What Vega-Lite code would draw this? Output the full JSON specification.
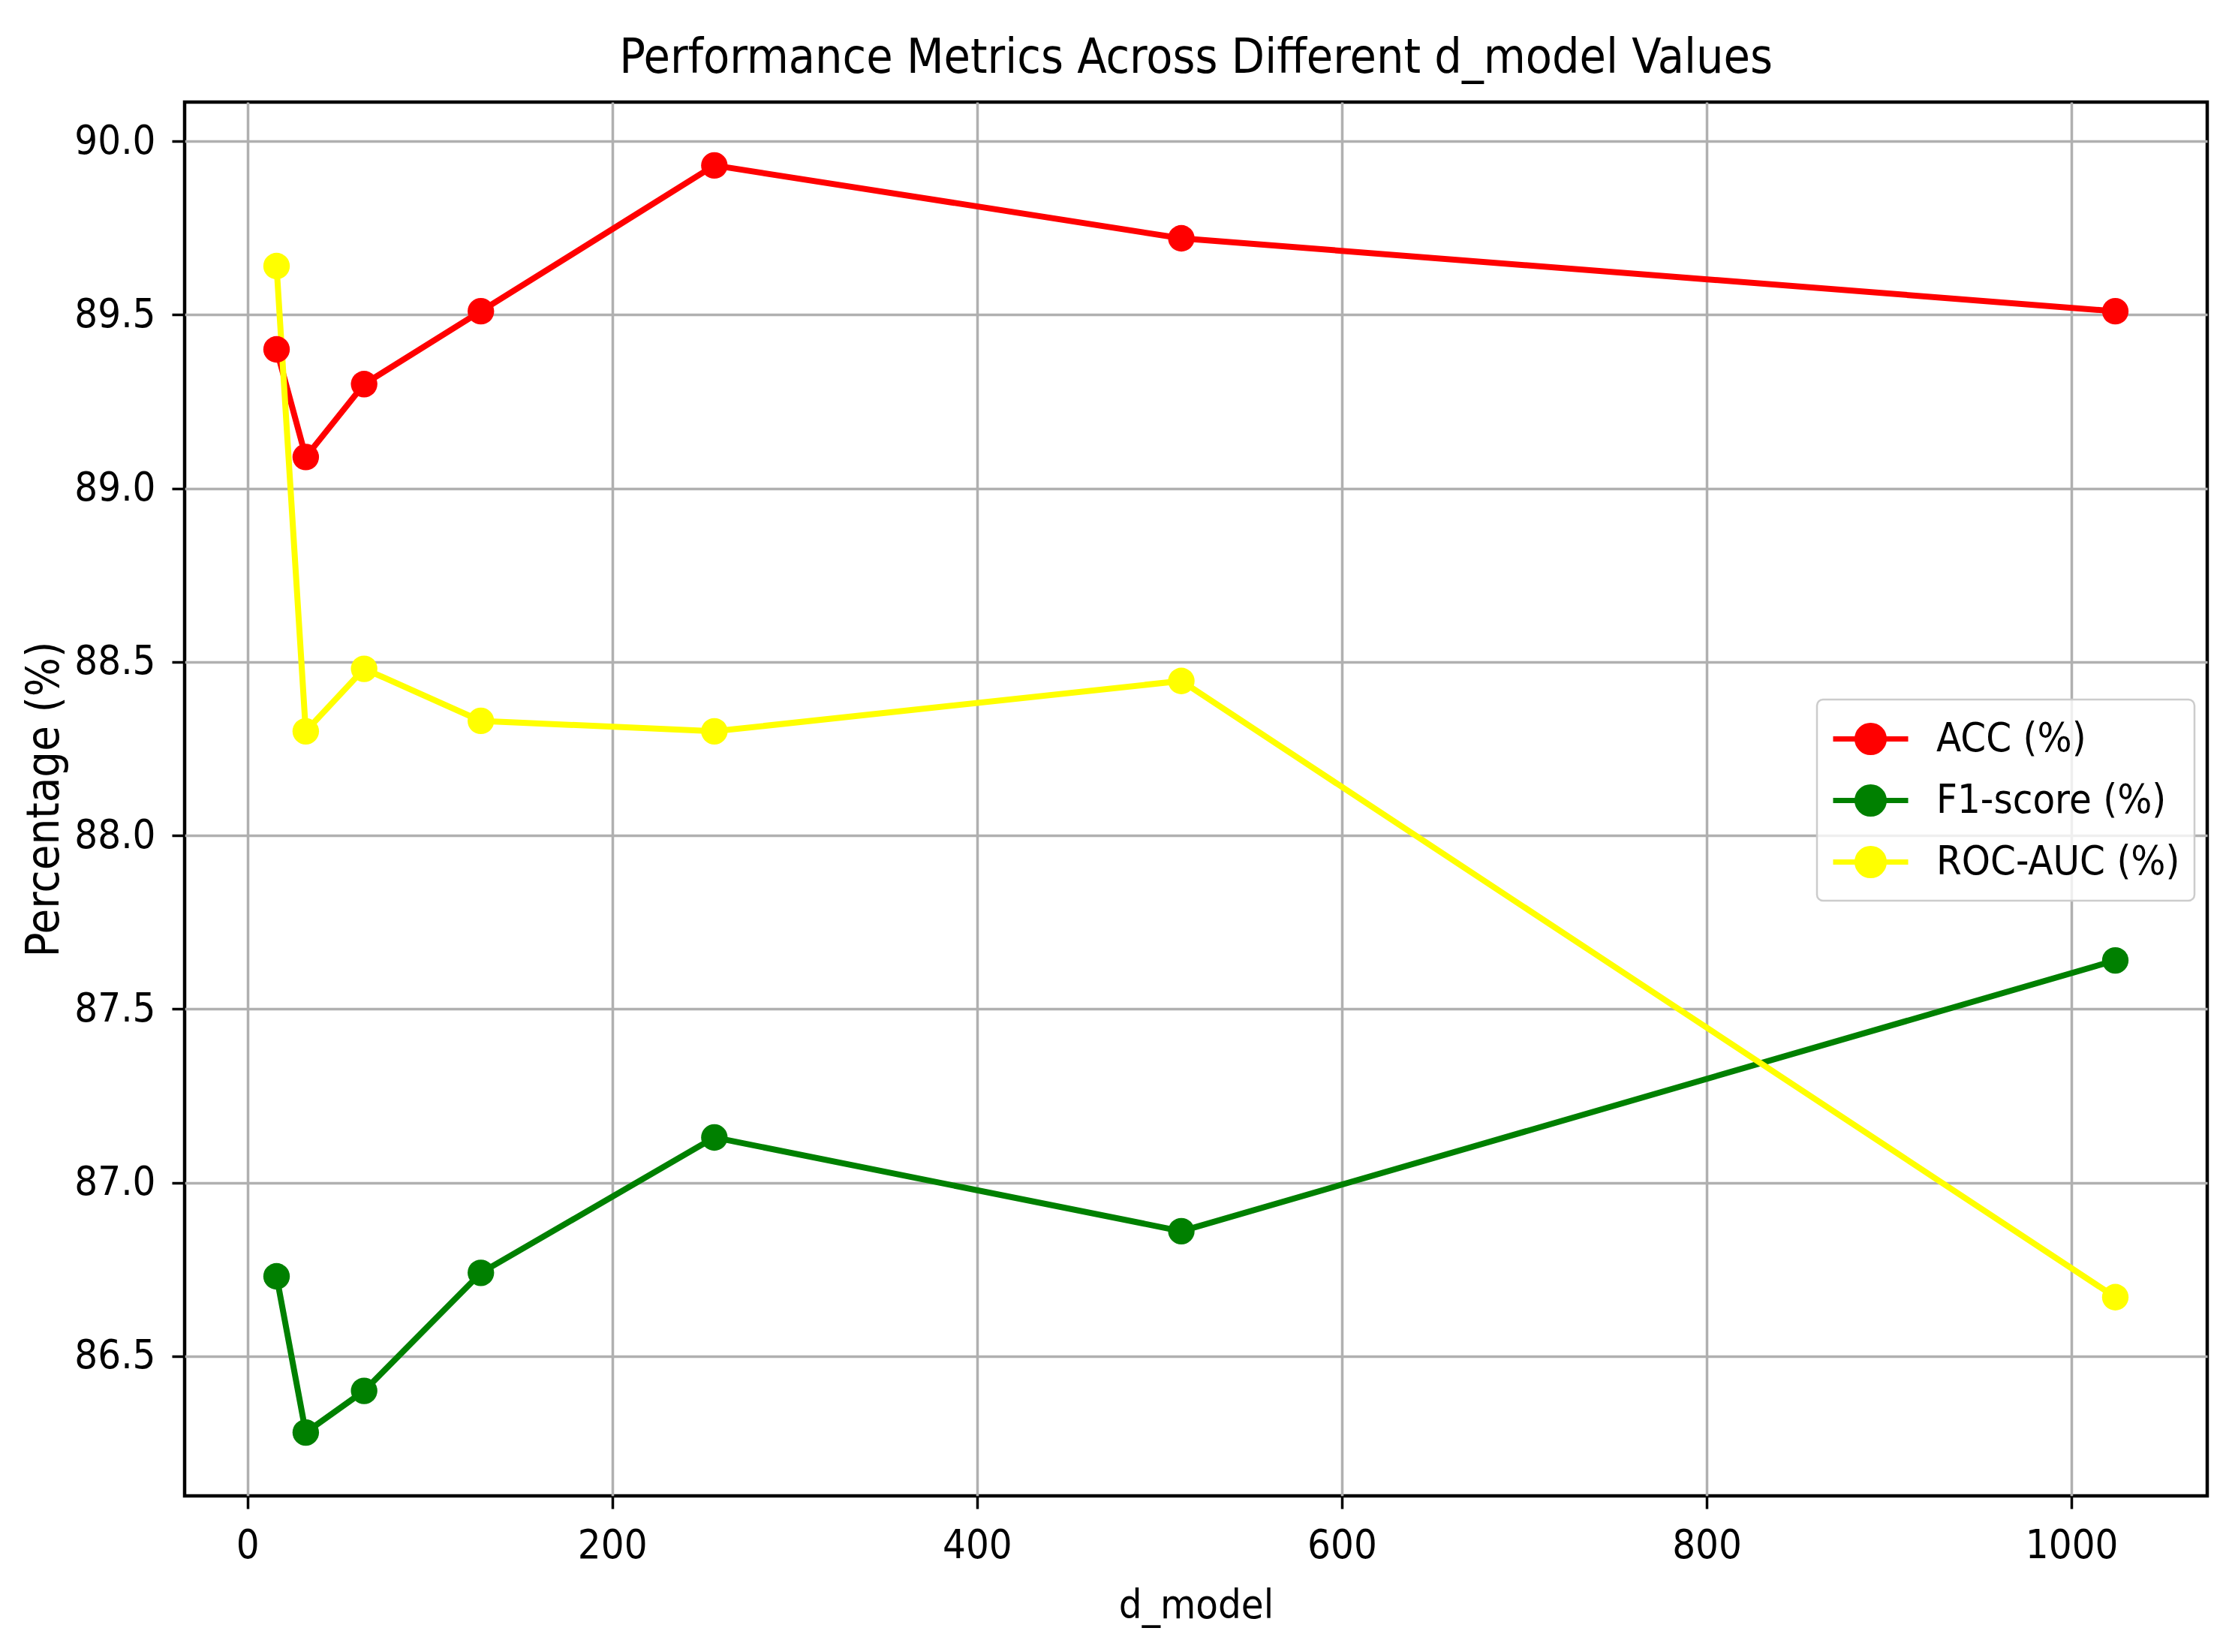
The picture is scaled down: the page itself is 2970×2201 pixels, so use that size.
{
  "$schema": "https://vega.github.io/schema/vega-lite/v6.json",
  "description": "Performance metrics across d_model values",
  "width": 2695,
  "height": 1857,
  "autosize": {"type": "none"},
  "padding": {"left": 246, "top": 136, "right": 29, "bottom": 208},
  "background": "white",
  "title": {
    "text": "Performance Metrics Across Different d_model Values",
    "fontSize": 64,
    "fontWeight": "normal",
    "color": "black",
    "baseline": "bottom",
    "offset": 18,
    "dy": 56
  },
  "config": {
    "font": "DejaVu Sans Condensed, DejaVu Sans",
    "view": {"stroke": "black", "strokeWidth": 4.5},
    "axis": {
      "domain": false,
      "grid": true,
      "gridColor": "#b0b0b0",
      "gridWidth": 3.5,
      "tickColor": "black",
      "tickWidth": 3.5,
      "tickSize": 17,
      "labelFontSize": 54,
      "labelColor": "black",
      "labelPadding": 22,
      "titleFontSize": 54,
      "titleFontWeight": "normal",
      "titleColor": "black"
    }
  },
  "data": {
    "values": [
      {"d_model": 16, "metric": "ACC (%)", "value": 89.40},
      {"d_model": 32, "metric": "ACC (%)", "value": 89.09},
      {"d_model": 64, "metric": "ACC (%)", "value": 89.30},
      {"d_model": 128, "metric": "ACC (%)", "value": 89.51},
      {"d_model": 256, "metric": "ACC (%)", "value": 89.93},
      {"d_model": 512, "metric": "ACC (%)", "value": 89.72},
      {"d_model": 1024, "metric": "ACC (%)", "value": 89.51},
      {"d_model": 16, "metric": "F1-score (%)", "value": 86.73},
      {"d_model": 32, "metric": "F1-score (%)", "value": 86.28},
      {"d_model": 64, "metric": "F1-score (%)", "value": 86.40},
      {"d_model": 128, "metric": "F1-score (%)", "value": 86.74},
      {"d_model": 256, "metric": "F1-score (%)", "value": 87.13},
      {"d_model": 512, "metric": "F1-score (%)", "value": 86.86},
      {"d_model": 1024, "metric": "F1-score (%)", "value": 87.64},
      {"d_model": 16, "metric": "ROC-AUC (%)", "value": 89.64},
      {"d_model": 32, "metric": "ROC-AUC (%)", "value": 88.30},
      {"d_model": 64, "metric": "ROC-AUC (%)", "value": 88.48},
      {"d_model": 128, "metric": "ROC-AUC (%)", "value": 88.33},
      {"d_model": 256, "metric": "ROC-AUC (%)", "value": 88.30},
      {"d_model": 512, "metric": "ROC-AUC (%)", "value": 88.445},
      {"d_model": 1024, "metric": "ROC-AUC (%)", "value": 86.67}
    ]
  },
  "mark": {
    "type": "line",
    "strokeWidth": 8,
    "point": {"filled": true, "size": 1250, "opacity": 1}
  },
  "encoding": {
    "x": {
      "field": "d_model",
      "type": "quantitative",
      "scale": {"domain": [-34.4, 1074.4], "nice": false, "zero": false},
      "axis": {
        "title": "d_model",
        "values": [0, 200, 400, 600, 800, 1000],
        "format": "d",
        "titlePadding": 26
      }
    },
    "y": {
      "field": "value",
      "type": "quantitative",
      "scale": {"domain": [86.0975, 90.1125], "nice": false, "zero": false},
      "axis": {
        "title": "Percentage (%)",
        "titleFontSize": 61,
        "values": [86.5, 87, 87.5, 88, 88.5, 89, 89.5, 90],
        "format": ".1f",
        "titlePadding": 8
      }
    },
    "color": {
      "field": "metric",
      "type": "nominal",
      "scale": {
        "domain": ["ACC (%)", "F1-score (%)", "ROC-AUC (%)"],
        "range": ["#ff0000", "#008000", "#ffff00"]
      },
      "legend": {
        "title": null,
        "orient": "none",
        "legendX": 2175,
        "legendY": 796,
        "symbolType": "M-1.667,0H1.667M0.6,0A0.6,0.6,0,1,1,-0.6,0A0.6,0.6,0,1,1,0.6,0Z",
        "symbolSize": 3600,
        "symbolStrokeWidth": 7,
        "symbolOffset": 19,
        "labelFontSize": 54,
        "labelColor": "black",
        "labelLimit": 600,
        "labelOffset": 54,
        "rowPadding": 16,
        "padding": 19,
        "fillColor": "rgba(255,255,255,0.8)",
        "strokeColor": "#cccccc",
        "cornerRadius": 8,
        "encode": {
          "legend": {
            "update": {"strokeWidth": {"value": 2.5}}
          },
          "symbols": {
            "update": {
              "fill": {"scale": "color", "field": "value"},
              "stroke": {"scale": "color", "field": "value"},
              "opacity": {"value": 1}
            }
          }
        }
      }
    }
  }
}
